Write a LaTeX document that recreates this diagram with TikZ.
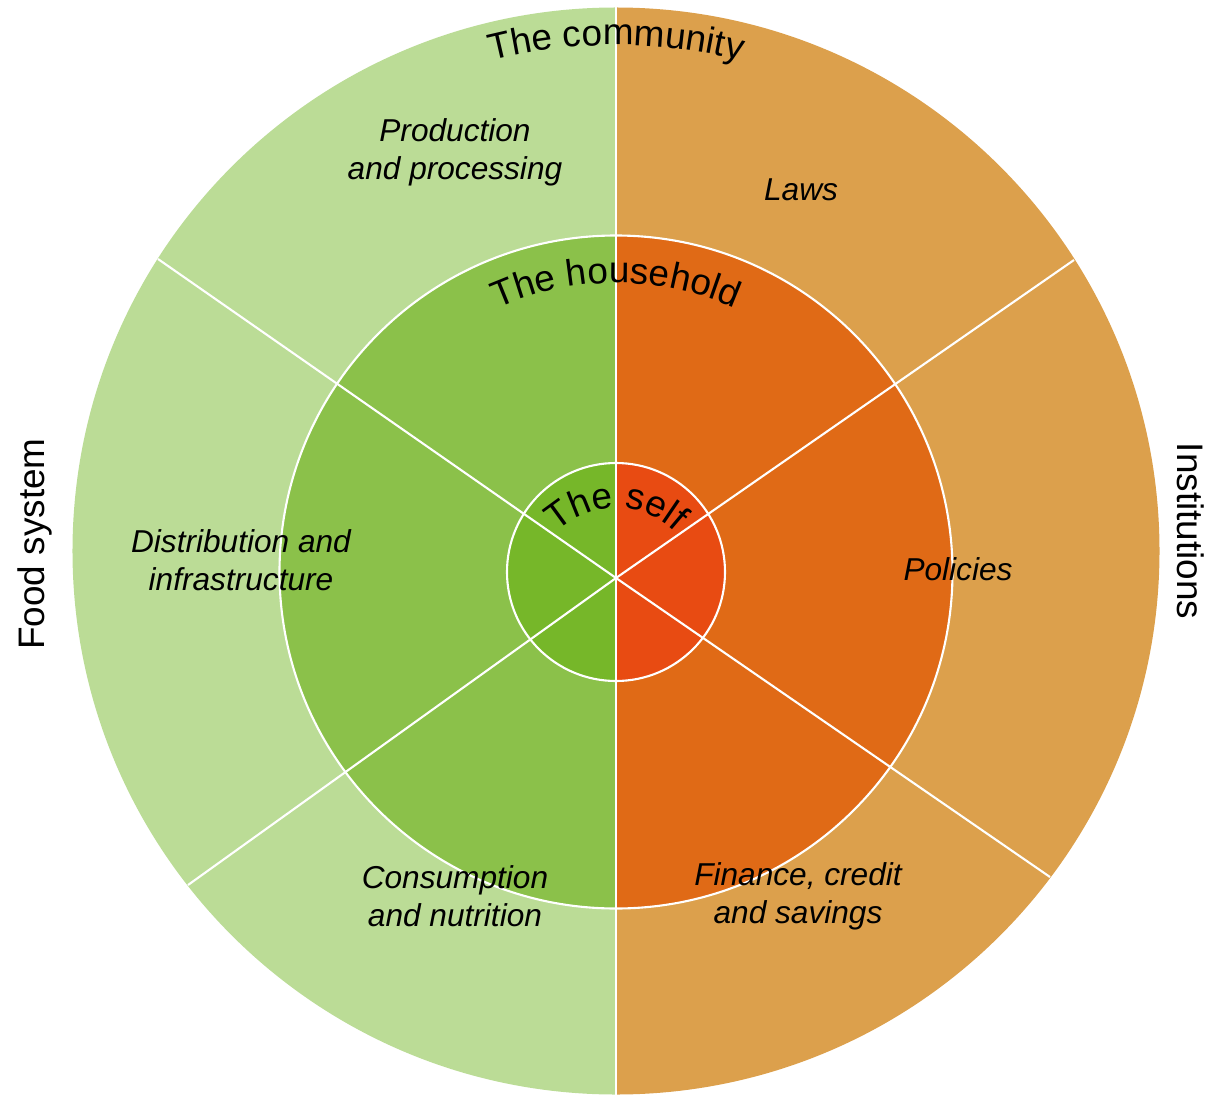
\documentclass[tikz,border=0pt]{standalone}
\usepackage{fontspec}
\setmainfont{Liberation Sans}
\usetikzlibrary{positioning, decorations.text}

\definecolor{outergreen}{HTML}{BBDC96}
\definecolor{outerorange}{HTML}{DCA04C}
\definecolor{midgreen}{HTML}{8BC14A}
\definecolor{midorange}{HTML}{E06A16}
\definecolor{coregreen}{HTML}{76B729}
\definecolor{corered}{HTML}{E84B12}

\begin{document}
\begin{tikzpicture}[
    divider/.style={
        draw=white,
        line width=0.6pt
    },
    topic/.style={ % Italic sector labels
        align=center,
        inner sep=0pt,
        font=\itshape\fontsize{9}{10.8}\selectfont
    },
    side/.style={
        inner sep=0pt,
        font=\fontsize{10.5}{12}\selectfont
    },
    curved/.style={
        decorate,
        decoration={
            text along path,
            text align=center,
            text={|\fontsize{10.5}{12}\selectfont|#1}
        }
    }
]
    \useasboundingbox (-6.16,-5.22) rectangle (5.97,5.72);

    % Outer ring
    \coordinate (oc) at (0,0.21);
    \fill[outergreen] (oc) ++(90:5.435) arc (90:270:5.435) -- cycle;
    \fill[outerorange] (oc) ++(90:5.435) arc (90:-90:5.435) -- cycle;

    % Middle ring
    \fill[midgreen] (0,3.365) arc (90:270:3.365) -- cycle;
    \fill[midorange] (0,3.365) arc (90:-90:3.365) -- cycle;

    % Core
    \fill[coregreen] (0,1.09) arc (90:270:1.09) -- cycle;
    \fill[corered] (0,1.09) arc (90:-90:1.09) -- cycle;

    % Dividers
    \coordinate (hub) at (0,-0.06);
    \coordinate (top) at (0,5.645);
    \coordinate (bottom) at (0,-5.23);
    \coordinate (ul) at (-4.58,3.13);
    \coordinate (ur) at (4.58,3.12);
    \coordinate (lr) at (4.34,-3.05);
    \coordinate (ll) at (-4.28,-3.13);
    \draw[divider] (top) -- (bottom);
    \draw[divider] (hub) -- (ul);
    \draw[divider] (hub) -- (ur);
    \draw[divider] (hub) -- (lr);
    \draw[divider] (hub) -- (ll);
    \draw[divider] (0,0) circle (3.365);
    \draw[divider] (0,0) circle (1.09);

    % Ring titles
    \path[curved={The community}] (oc) ++(125:5.06) arc (125:55:5.06);
    \path[curved={The household}] (140:2.89) arc (140:40:2.89);
    \coordinate (sc) at (0,-0.22);
    \path[curved={The self}] (sc) ++(160:0.86) arc (160:20:0.86);

    % Sector labels
    \node[topic] (prod) at (-1.61,4.2) {Production\\and processing};
    \node[topic] (laws) at (1.85,3.82) {Laws};
    \node[topic] (distr) at (-3.75,0.12) {Distribution and\\infrastructure};
    \node[topic] (policies) at (3.42,0.03) {Policies};
    \node[topic] (consum) at (-1.61,-3.24) {Consumption\\and nutrition};
    \node[topic] (finance) at (1.82,-3.24) {Finance, credit\\and savings};

    % Sides
    \node[side, rotate=90] (food) at (-5.81,0.28) {Food system};
    \node[side, rotate=-90] (inst) at (5.75,0.41) {Institutions};
\end{tikzpicture}
\end{document}
